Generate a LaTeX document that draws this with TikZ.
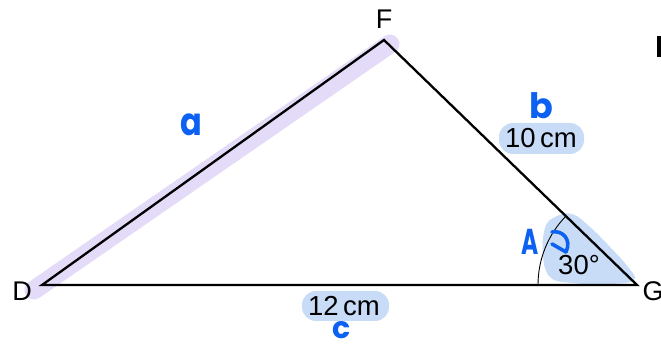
\documentclass[tikz,border=0pt]{standalone}
\usepackage{fontspec}
\setmainfont{Liberation Sans}
\newfontfamily\hand{Poppins}
\usetikzlibrary{arrows.meta}
\definecolor{penblue}{RGB}{12,96,242}
\definecolor{hlblue}{RGB}{200,220,248}
\definecolor{hlpurple}{RGB}{228,219,249}
\tikzset{
  edge/.style={line width=2.3pt, line join=miter},
  vlabel/.style={font=\fontsize{27}{27}\selectfont, inner sep=0pt},
  mlabel/.style={font=\fontsize{27.5}{27.5}\selectfont, inner sep=0pt},
  handtxt/.style={text=penblue, inner sep=0pt, font=\hand\bfseries},
  pen/.style={draw=penblue, line width=3.6pt, line cap=round, line join=round},
}
\begin{document}
\begin{tikzpicture}[x=1pt,y=1pt]
\useasboundingbox (0,0) rectangle (661,347);
\coordinate (D) at (42,62);
\coordinate (F) at (384,307);
\coordinate (G) at (637,62);
% purple highlight along DF
\draw[hlpurple, line width=19pt, line cap=round] (34,57) -- (390,303);
% blue highlights
\fill[hlblue, rounded corners=14pt] (499,193) rectangle (584,224);
\fill[hlblue, rounded corners=14pt] (302,26) rectangle (389,56);
\fill[hlblue] plot[smooth cycle, tension=0.7] coordinates {(545,119) (555,130) (572,133) (590,120) (610,100) (628,80) (634,67) (610,63) (572,64) (550,70) (543,92)};
% triangle
\draw[edge] (D) -- (F) -- (G) -- cycle;
% angle arc
\draw[line width=0.9pt] ([shift={(180:99pt)}]G) arc[start angle=180, end angle=135.92, radius=99pt];
% vertex labels
\node[vlabel] (lD) at (22,56) {D};
\node[vlabel] (lF) at (384,328) {F};
\node[vlabel] (lG) at (653,56) {G};
% measures
\node[mlabel] (m10) at (541,209) {10\,cm};
\node[mlabel] (m12) at (344,41) {12\,cm};
\node[mlabel] (m30) at (579,82) {30°};
% handwritten letters
\node[handtxt, font=\hand\bfseries\fontsize{32}{32}\selectfont, yscale=1.2] (ha) at (191,222) {a};
\node[handtxt, font=\hand\bfseries\fontsize{35}{35}\selectfont] (hb) at (541,241) {b};
\node[handtxt, font=\hand\bfseries\fontsize{30}{30}\selectfont] (hc) at (342,17) {c};
\node[handtxt, font=\hand\bfseries\fontsize{36}{36}\selectfont, xscale=0.65] (hA) at (530,105) {A};
% curly arrow
\draw[pen] (552,115) .. controls (562,117) and (572,108) .. (566,95);
\draw[pen] (566,95) -- (552,103);
% cut-off letter at right edge
\fill (657,290) rectangle (663,311);
\end{tikzpicture}
\end{document}
